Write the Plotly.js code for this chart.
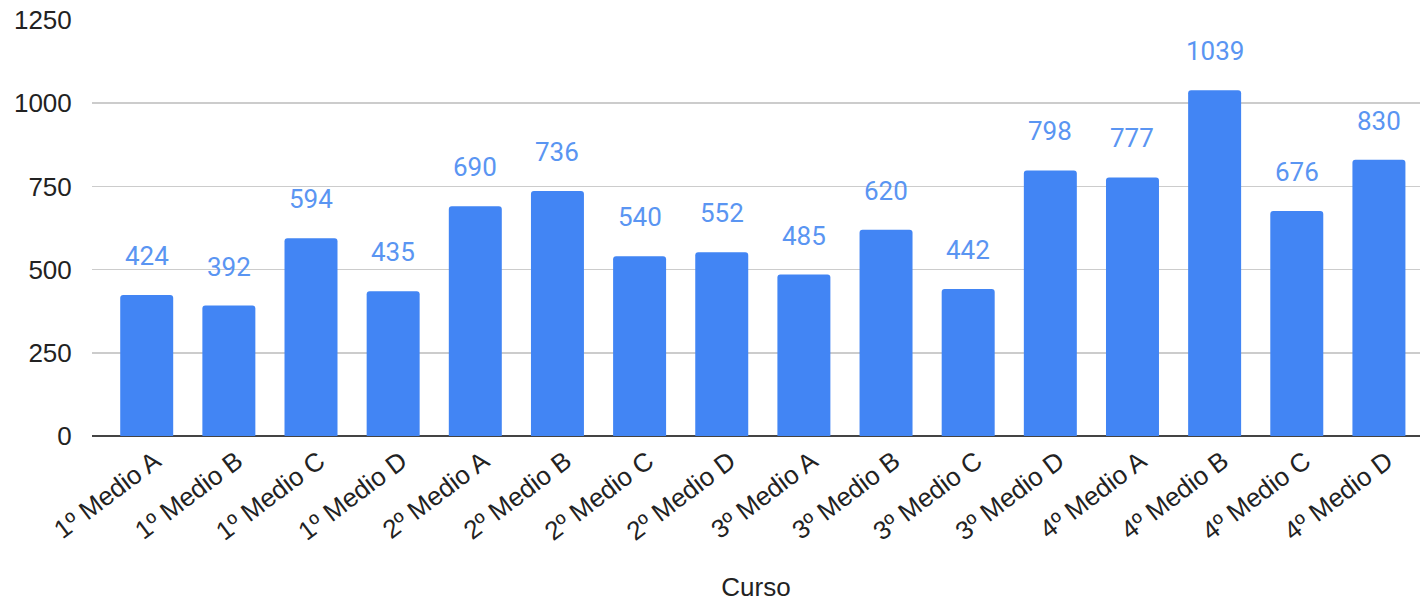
<!DOCTYPE html>
<html>
<head>
<meta charset="utf-8">
<script src="https://cdn.plot.ly/plotly-3.0.1.min.js"></script>
<style>html,body{margin:0;padding:0;background:#fff;}#chart{width:1421px;height:602px;}</style>
</head>
<body>
<div id="chart"></div>
<script>
const categories = ["1º Medio A","1º Medio B","1º Medio C","1º Medio D","2º Medio A","2º Medio B","2º Medio C","2º Medio D","3º Medio A","3º Medio B","3º Medio C","3º Medio D","4º Medio A","4º Medio B","4º Medio C","4º Medio D"];
const values = [424,392,594,435,690,736,540,552,485,620,442,798,777,1039,676,830];
const yTicks = [0,250,500,750,1000,1250];

const trace = {
  type: 'bar',
  x: categories,
  y: values,
  marker: {color: '#4285F4', cornerradius: 3},
  hoverinfo: 'x+y'
};

const annotations = categories.map((c, i) => ({
  x: c, y: values[i], xref: 'x', yref: 'y',
  text: String(values[i]), showarrow: false,
  yanchor: 'bottom', yshift: 22,
  font: {family: 'Roboto, sans-serif', size: 26, color: '#5A95F2'}
}));

const layout = {
  width: 1421, height: 602,
  margin: {l: 92, r: 1, t: 20, b: 166},
  paper_bgcolor: '#fff', plot_bgcolor: '#fff',
  showlegend: false,
  bargap: 0.355,
  xaxis: {
    type: 'category',
    range: [-0.666, 15.5],
    tickangle: -37,
    tickfont: {family: '"Liberation Sans", Arial, sans-serif', size: 26, color: '#222'},
    showgrid: false,
    ticks: '',
    ticklabelshift: 8,
    ticklabelstandoff: 4,
    title: {text: 'Curso', font: {family: '"Liberation Sans", Arial, sans-serif', size: 26, color: '#222'}, standoff: 48}
  },
  yaxis: {
    range: [0, 1250],
    tickvals: yTicks,
    ticktext: yTicks.map(String),
    tickfont: {family: '"Liberation Sans", Arial, sans-serif', size: 26, color: '#222'},
    gridcolor: '#cccccc', gridwidth: 1.5,
    zeroline: true, zerolinecolor: '#444', zerolinewidth: 2,
    ticks: 'outside', ticklen: 14, tickcolor: 'rgba(0,0,0,0)',
    fixedrange: true
  },
  annotations: annotations
};

Plotly.newPlot('chart', [trace], layout, {displayModeBar: false, staticPlot: true});
</script>
</body>
</html>
